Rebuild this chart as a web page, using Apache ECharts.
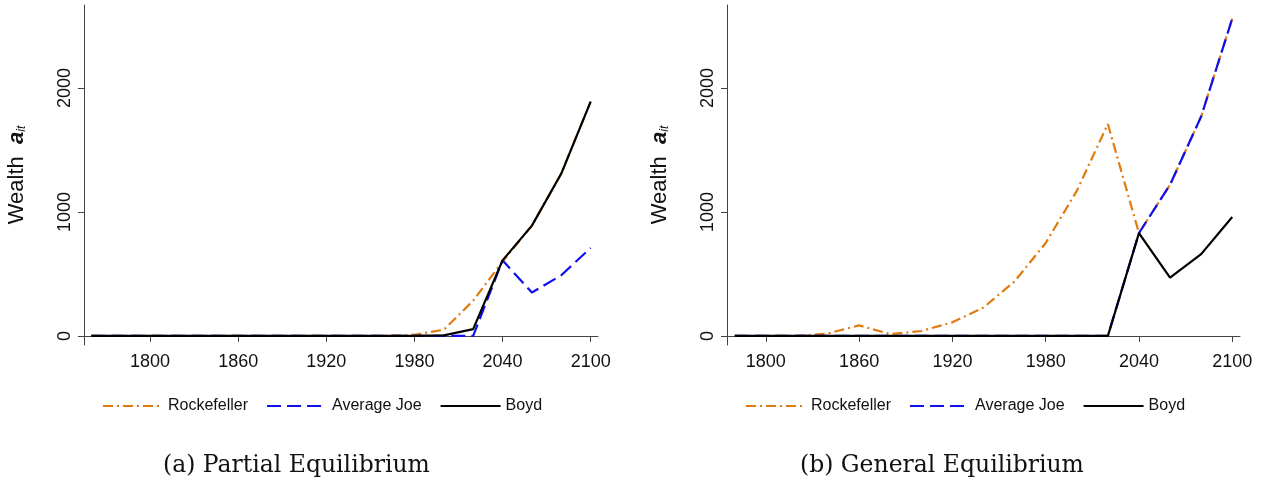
<!DOCTYPE html>
<html><head><meta charset="utf-8">
<script src="https://cdn.jsdelivr.net/npm/echarts@6/dist/echarts.min.js"></script>
<style>html,body{margin:0;background:#fff}#c{width:1268px;height:486px}</style>
</head><body><div id="c"></div>
<script>
// panel (a) partial equilibrium, years from 1760
const yearsA = [1760,1780,1800,1820,1840,1860,1880,1900,1920,1940,1960,1980,2000,2020,2040,2060,2080,2100]
const rockA  = [0,0,0,0,0,0,0,0,0,0,0,10,50,285,600,890,1310,1890]
const joeA   = [0,0,0,0,0,0,0,0,0,0,0,0,0,0,610,350,490,710]
const boydA  = [0,0,0,0,0,0,0,0,0,0,0,0,5,55,610,890,1310,1890]
// panel (b) general equilibrium, years from 1780
const yearsB = [1780,1800,1820,1840,1860,1880,1900,1920,1940,1960,1980,2000,2020,2040,2060,2080,2100]
const rockB  = [0,0,0,20,85,15,40,110,230,440,750,1170,1710,830,1220,1770,2560]
const joeB   = [0,0,0,0,0,0,0,0,0,0,0,0,0,830,1220,1770,2560]
const boydB  = [0,0,0,0,0,0,0,0,0,0,0,0,0,830,470,660,960]
const xTicks = [1800,1860,1920,1980,2040,2100]
const yTicks = [0,1000,2000]
const captions = ['(a) Partial Equilibrium', '(b) General Equilibrium']

const font = 'Liberation Sans, Arial, sans-serif'
const axisLine = { lineStyle: { color: '#444', width: 1 } }
const zip = (xs, ys) => xs.map((x, i) => [x, ys[i]])

function xAxis(idx, min, max) {
  return {
    gridIndex: idx, type: 'value', min, max, axisLine,
    splitLine: { show: false },
    axisTick: { customValues: xTicks, length: 6, lineStyle: { color: '#444' } },
    axisLabel: { customValues: xTicks, formatter: v => String(v), fontSize: 18, color: '#111', fontFamily: font, margin: 8 }
  }
}
function yAxis(idx) {
  return {
    gridIndex: idx, type: 'value', min: -73, max: 2670, axisLine,
    splitLine: { show: false },
    name: 'Wealth  {i|a}{s|it}', nameLocation: 'middle', nameGap: 56, nameRotate: 90,
    nameTextStyle: { fontSize: 22, color: '#111', fontFamily: font,
      rich: { i: { fontSize: 22, fontStyle: 'italic', fontWeight: 'bold', fontFamily: font },
              s: { fontSize: 12, fontStyle: 'italic', fontFamily: font, verticalAlign: 'bottom', padding: [8,0,0,0] } } },
    axisTick: { show: true, customValues: yTicks, length: 6, lineStyle: { color: '#444' } },
    axisLabel: { customValues: yTicks, formatter: v => String(v), fontSize: 18, color: '#111', fontFamily: font, rotate: 90, margin: 10 }
  }
}
function series(idx, years, rock, joe, boyd) {
  const base = { type: 'line', xAxisIndex: idx, yAxisIndex: idx, symbol: 'none', silent: true }
  return [
    { ...base, name: 'Rockefeller', data: zip(years, rock), z: 2,
      lineStyle: { color: '#e07b10', width: 2.2, type: [10, 4, 2, 4] }, itemStyle: { color: '#e07b10' } },
    { ...base, name: 'Average Joe', data: zip(years, joe), z: 3,
      lineStyle: { color: '#1010ee', width: 2.2, type: [14, 6] }, itemStyle: { color: '#1010ee' } },
    { ...base, name: 'Boyd', data: zip(years, boyd), z: 4,
      lineStyle: { color: '#000', width: 2.2 }, itemStyle: { color: '#000' } }
  ]
}
function legend(left) {
  return {
    left, top: 393, itemWidth: 60, itemHeight: 14, itemGap: 18,
    itemStyle: { opacity: 0 },
    textStyle: { fontSize: 16, color: '#111', fontFamily: font },
    data: ['Rockefeller', 'Average Joe', 'Boyd']
  }
}

const chart = echarts.init(document.getElementById('c'))
chart.setOption({
  animation: false,
  grid: [
    { left: 84, right: 670, top: 5, bottom: 141 },
    { left: 727, right: 28, top: 5, bottom: 141 }
  ],
  xAxis: [xAxis(0, 1755, 2105), xAxis(1, 1775, 2105)],
  yAxis: [yAxis(0), yAxis(1)],
  legend: [legend(97), legend(740)],
  series: [...series(0, yearsA, rockA, joeA, boydA), ...series(1, yearsB, rockB, joeB, boydB)],
  graphic: [
    { type: 'text', left: 163, top: 454, style: { text: captions[0], fontSize: 23.5, fill: '#111', fontFamily: 'DejaVu Serif, serif' } },
    { type: 'text', left: 800, top: 454, style: { text: captions[1], fontSize: 23.5, fill: '#111', fontFamily: 'DejaVu Serif, serif' } }
  ]
})
</script></body></html>
